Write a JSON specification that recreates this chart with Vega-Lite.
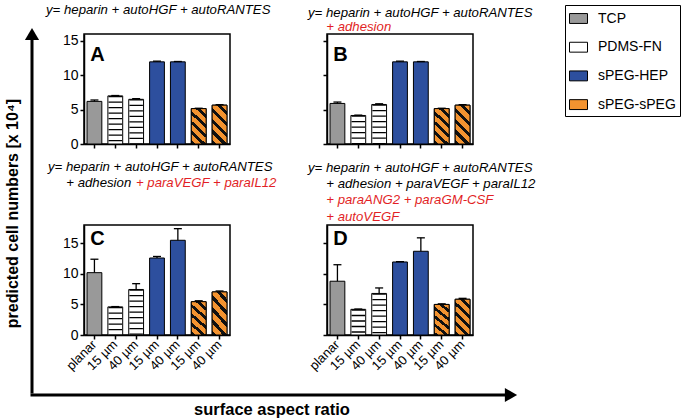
{
  "$schema": "https://vega.github.io/schema/vega-lite/v6.json",
  "padding": {"left": 4, "top": 1, "right": 2, "bottom": 2},
  "background": "white",
  "config": {
    "font": "Liberation Sans",
    "view": {"stroke": "black", "strokeWidth": 1.5},
    "axis": {"domainColor": "black", "domainWidth": 1.5, "tickColor": "black", "tickWidth": 1.5, "tickSize": 4, "labelColor": "black", "labelFontSize": 14, "labelFont": "Liberation Sans", "grid": false, "titleColor": "black", "titleFont": "Liberation Sans", "labelOverlap": false},
    "title": {"font": "Liberation Sans", "fontSize": 13.2, "fontStyle": "italic", "fontWeight": "normal", "color": "black", "anchor": "start", "frame": "group", "lineHeight": 16.4, "subtitleFont": "Liberation Sans", "subtitleFontSize": 13.2, "subtitleFontStyle": "italic", "subtitleColor": "#e21f26", "subtitleLineHeight": 16.4, "subtitlePadding": 0},
    "legend": {"titleColor": "black"}
  },
  "datasets": {
    "bars": [
      {"panel": "A", "cond": "TCP|planar", "material": "TCP", "value": 6.2, "upper": 6.4},
      {"panel": "A", "cond": "PDMS|15 µm", "material": "PDMS-FN", "value": 7.0, "upper": 7.05},
      {"panel": "A", "cond": "PDMS|40 µm", "material": "PDMS-FN", "value": 6.5, "upper": 6.6},
      {"panel": "A", "cond": "HEP|15 µm", "material": "sPEG-HEP", "value": 11.95, "upper": 12.05},
      {"panel": "A", "cond": "HEP|40 µm", "material": "sPEG-HEP", "value": 11.95, "upper": 12.0},
      {"panel": "A", "cond": "sPEG|15 µm", "material": "sPEG-sPEG", "value": 5.15, "upper": 5.2},
      {"panel": "A", "cond": "sPEG|40 µm", "material": "sPEG-sPEG", "value": 5.65, "upper": 5.72},
      {"panel": "B", "cond": "TCP|planar", "material": "TCP", "value": 5.9, "upper": 6.1},
      {"panel": "B", "cond": "PDMS|15 µm", "material": "PDMS-FN", "value": 4.15, "upper": 4.2},
      {"panel": "B", "cond": "PDMS|40 µm", "material": "PDMS-FN", "value": 5.75, "upper": 5.85},
      {"panel": "B", "cond": "HEP|15 µm", "material": "sPEG-HEP", "value": 11.95, "upper": 12.05},
      {"panel": "B", "cond": "HEP|40 µm", "material": "sPEG-HEP", "value": 11.95, "upper": 12.0},
      {"panel": "B", "cond": "sPEG|15 µm", "material": "sPEG-sPEG", "value": 5.15, "upper": 5.2},
      {"panel": "B", "cond": "sPEG|40 µm", "material": "sPEG-sPEG", "value": 5.65, "upper": 5.72},
      {"panel": "C", "cond": "TCP|planar", "material": "TCP", "value": 10.2, "upper": 12.4},
      {"panel": "C", "cond": "PDMS|15 µm", "material": "PDMS-FN", "value": 4.6, "upper": 4.65},
      {"panel": "C", "cond": "PDMS|40 µm", "material": "PDMS-FN", "value": 7.45, "upper": 8.4},
      {"panel": "C", "cond": "HEP|15 µm", "material": "sPEG-HEP", "value": 12.6, "upper": 12.85},
      {"panel": "C", "cond": "HEP|40 µm", "material": "sPEG-HEP", "value": 15.5, "upper": 17.4},
      {"panel": "C", "cond": "sPEG|15 µm", "material": "sPEG-sPEG", "value": 5.45, "upper": 5.6},
      {"panel": "C", "cond": "sPEG|40 µm", "material": "sPEG-sPEG", "value": 7.05, "upper": 7.2},
      {"panel": "D", "cond": "TCP|planar", "material": "TCP", "value": 8.8, "upper": 11.5},
      {"panel": "D", "cond": "PDMS|15 µm", "material": "PDMS-FN", "value": 4.2, "upper": 4.25},
      {"panel": "D", "cond": "PDMS|40 µm", "material": "PDMS-FN", "value": 6.8, "upper": 7.7},
      {"panel": "D", "cond": "HEP|15 µm", "material": "sPEG-HEP", "value": 11.95, "upper": 12.0},
      {"panel": "D", "cond": "HEP|40 µm", "material": "sPEG-HEP", "value": 13.7, "upper": 15.9},
      {"panel": "D", "cond": "sPEG|15 µm", "material": "sPEG-sPEG", "value": 5.0, "upper": 5.1},
      {"panel": "D", "cond": "sPEG|40 µm", "material": "sPEG-sPEG", "value": 5.85, "upper": 6.0}
    ],
    "letters": [
      {"panel": "A", "L": "A"}, {"panel": "B", "L": "B"}, {"panel": "C", "L": "C"}, {"panel": "D", "L": "D"}
    ]
  },
  "spacing": -10,
  "vconcat": [
    {
      "spacing": 5,
      "hconcat": [
        {
          "width": 1, "height": 358,
          "view": {"stroke": null},
          "data": {"values": [{"k": 0}]},
          "layer": [
            {"mark": {"type": "rule", "color": "black", "strokeWidth": 3, "strokeCap": "square"},
             "encoding": {
               "x": {"datum": 0, "type": "quantitative", "scale": {"domain": [0, 1]}, "axis": null},
               "y": {"datum": 0, "type": "quantitative", "scale": {"domain": [0, 1]}, "axis": {"title": "predicted cell numbers [x 10⁴]", "domain": false, "ticks": false, "labels": false, "grid": false, "titleFontSize": 16, "titleFontWeight": "bold", "titlePadding": 12}},
               "y2": {"datum": 1}
             }},
            {"mark": {"type": "point", "shape": "triangle-up", "filled": true, "size": 200, "color": "black", "opacity": 1},
             "encoding": {"x": {"datum": 0, "type": "quantitative"}, "y": {"datum": 1, "type": "quantitative"}}}
          ]
        },
        {
          "columns": 2,
          "align": "each",
          "spacing": {"row": 6, "column": 28},
          "concat": [
            {
              "width": 146, "height": 110,
              "title": {"text": "y= heparin + autoHGF + autoRANTES", "dx": -38, "offset": 17},
              "data": {"name": "bars"},
              "transform": [{"filter": "datum.panel === 'A'"}],
              "encoding": {"x": {"field": "cond", "type": "nominal", "scale": {"domain": ["TCP|planar", "PDMS|15 µm", "PDMS|40 µm", "HEP|15 µm", "HEP|40 µm", "sPEG|15 µm", "sPEG|40 µm"], "paddingInner": 0.29, "paddingOuter": 0.145}, "axis": {"title": null, "labels": false}}},
              "layer": [
                {"mark": {"type": "bar", "stroke": "black", "strokeWidth": 1},
                 "encoding": {
                   "y": {"field": "value", "type": "quantitative", "scale": {"domain": [0, 15]}, "axis": {"title": null, "values": [0, 5, 10, 15], "labelPadding": 2}},
                   "fill": {"field": "material", "type": "nominal", "scale": {"domain": ["TCP", "PDMS-FN", "sPEG-HEP", "sPEG-sPEG"], "range": ["#999999", "#ffffff", "#2d4f9e", "#f39330"]},
                     "legend": {"title": null, "orient": "none", "legendX": 533, "legendY": -29, "strokeColor": "black", "padding": 4, "labelFontSize": 14, "labelColor": "black", "labelOffset": 10, "rowPadding": 11.7, "symbolType": "M-1,-0.55L1,-0.55L1,0.55L-1,0.55Z", "symbolSize": 324, "symbolStrokeColor": "black", "symbolStrokeWidth": 1, "symbolOpacity": 1}}
                 }},
                {"transform": [{"filter": "datum.material === 'sPEG-sPEG'"}],
                 "mark": {"type": "bar", "stroke": "black", "strokeWidth": 1, "fill": {"gradient": "linear", "x1": 1, "y1": 0, "x2": 0.5355, "y2": 1.2065, "stops": [{"offset": 0, "color": "#f39330"}, {"offset": 0.12, "color": "#f39330"}, {"offset": 0.12, "color": "#111111"}, {"offset": 0.2, "color": "#111111"}, {"offset": 0.2, "color": "#f39330"}, {"offset": 0.32, "color": "#f39330"}, {"offset": 0.32, "color": "#111111"}, {"offset": 0.4, "color": "#111111"}, {"offset": 0.4, "color": "#f39330"}, {"offset": 0.52, "color": "#f39330"}, {"offset": 0.52, "color": "#111111"}, {"offset": 0.6, "color": "#111111"}, {"offset": 0.6, "color": "#f39330"}, {"offset": 0.72, "color": "#f39330"}, {"offset": 0.72, "color": "#111111"}, {"offset": 0.8, "color": "#111111"}, {"offset": 0.8, "color": "#f39330"}, {"offset": 0.92, "color": "#f39330"}, {"offset": 0.92, "color": "#111111"}, {"offset": 1, "color": "#111111"}]}},
                 "encoding": {"y": {"field": "value", "type": "quantitative", "axis": {"title": null, "values": [0, 5, 10, 15], "labelPadding": 2}}}},
                {"transform": [{"filter": "datum.material === 'PDMS-FN'"}],
                 "mark": {"type": "rule", "strokeWidth": 13.5, "strokeDash": [1.3, 4.2], "color": "black"},
                 "encoding": {"y": {"field": "value", "type": "quantitative", "axis": {"title": null, "values": [0, 5, 10, 15], "labelPadding": 2}}, "y2": {"datum": 0}}},
                {"mark": {"type": "rule", "strokeWidth": 1.3, "color": "black"},
                 "encoding": {"y": {"field": "value", "type": "quantitative", "axis": {"title": null, "values": [0, 5, 10, 15], "labelPadding": 2}}, "y2": {"field": "upper"}}},
                {"mark": {"type": "tick", "size": 8, "thickness": 1.3, "color": "black", "opacity": 1},
                 "encoding": {"y": {"field": "upper", "type": "quantitative", "axis": {"title": null, "values": [0, 5, 10, 15], "labelPadding": 2}}}},
                {"data": {"name": "letters"}, "transform": [{"filter": "datum.panel === 'A'"}],
                 "mark": {"type": "text", "fontSize": 20, "fontWeight": "bold", "align": "center", "baseline": "top", "dx": 3, "dy": 4, "color": "black"},
                 "encoding": {"x": {"datum": "TCP|planar", "type": "nominal"}, "y": {"datum": 15, "type": "quantitative", "axis": {"title": null, "values": [0, 5, 10, 15], "labelPadding": 2}}, "text": {"field": "L"}}}
              ]
            },
            {
              "width": 146, "height": 110,
              "title": {"text": "y= heparin + autoHGF + autoRANTES", "subtitle": "\u200b\u00a0\u00a0\u00a0\u00a0\u00a0+ adhesion", "subtitlePadding": 1, "dx": -19, "offset": 0},
              "data": {"name": "bars"},
              "transform": [{"filter": "datum.panel === 'B'"}],
              "encoding": {"x": {"field": "cond", "type": "nominal", "scale": {"domain": ["TCP|planar", "PDMS|15 µm", "PDMS|40 µm", "HEP|15 µm", "HEP|40 µm", "sPEG|15 µm", "sPEG|40 µm"], "paddingInner": 0.29, "paddingOuter": 0.145}, "axis": {"title": null, "labels": false}}},
              "layer": [
                {"mark": {"type": "bar", "stroke": "black", "strokeWidth": 1},
                 "encoding": {
                   "y": {"field": "value", "type": "quantitative", "scale": {"domain": [0, 15]}, "axis": {"title": null, "values": [0, 5, 10, 15], "labels": false}},
                   "fill": {"field": "material", "type": "nominal"}
                 }},
                {"transform": [{"filter": "datum.material === 'sPEG-sPEG'"}],
                 "mark": {"type": "bar", "stroke": "black", "strokeWidth": 1, "fill": {"gradient": "linear", "x1": 1, "y1": 0, "x2": 0.5355, "y2": 1.2065, "stops": [{"offset": 0, "color": "#f39330"}, {"offset": 0.12, "color": "#f39330"}, {"offset": 0.12, "color": "#111111"}, {"offset": 0.2, "color": "#111111"}, {"offset": 0.2, "color": "#f39330"}, {"offset": 0.32, "color": "#f39330"}, {"offset": 0.32, "color": "#111111"}, {"offset": 0.4, "color": "#111111"}, {"offset": 0.4, "color": "#f39330"}, {"offset": 0.52, "color": "#f39330"}, {"offset": 0.52, "color": "#111111"}, {"offset": 0.6, "color": "#111111"}, {"offset": 0.6, "color": "#f39330"}, {"offset": 0.72, "color": "#f39330"}, {"offset": 0.72, "color": "#111111"}, {"offset": 0.8, "color": "#111111"}, {"offset": 0.8, "color": "#f39330"}, {"offset": 0.92, "color": "#f39330"}, {"offset": 0.92, "color": "#111111"}, {"offset": 1, "color": "#111111"}]}},
                 "encoding": {"y": {"field": "value", "type": "quantitative", "axis": {"title": null, "values": [0, 5, 10, 15], "labels": false}}}},
                {"transform": [{"filter": "datum.material === 'PDMS-FN'"}],
                 "mark": {"type": "rule", "strokeWidth": 13.5, "strokeDash": [1.3, 4.2], "color": "black"},
                 "encoding": {"y": {"field": "value", "type": "quantitative", "axis": {"title": null, "values": [0, 5, 10, 15], "labels": false}}, "y2": {"datum": 0}}},
                {"mark": {"type": "rule", "strokeWidth": 1.3, "color": "black"},
                 "encoding": {"y": {"field": "value", "type": "quantitative", "axis": {"title": null, "values": [0, 5, 10, 15], "labels": false}}, "y2": {"field": "upper"}}},
                {"mark": {"type": "tick", "size": 8, "thickness": 1.3, "color": "black", "opacity": 1},
                 "encoding": {"y": {"field": "upper", "type": "quantitative", "axis": {"title": null, "values": [0, 5, 10, 15], "labels": false}}}},
                {"data": {"name": "letters"}, "transform": [{"filter": "datum.panel === 'B'"}],
                 "mark": {"type": "text", "fontSize": 20, "fontWeight": "bold", "align": "center", "baseline": "top", "dx": 3, "dy": 4, "color": "black"},
                 "encoding": {"x": {"datum": "TCP|planar", "type": "nominal"}, "y": {"datum": 15, "type": "quantitative", "axis": {"title": null, "values": [0, 5, 10, 15], "labels": false}}, "text": {"field": "L"}}}
              ]
            },
            {
              "width": 146, "height": 110,
              "title": {"text": ["y= heparin + autoHGF + autoRANTES", "\u200b\u00a0\u00a0\u00a0\u00a0\u00a0+ adhesion"], "subtitle": "\u200b\u00a0\u00a0\u00a0\u00a0\u00a0\u00a0\u00a0\u00a0\u00a0\u00a0\u00a0\u00a0\u00a0\u00a0\u00a0\u00a0\u00a0\u00a0\u00a0\u00a0\u00a0\u00a0\u00a0\u00a0+ paraVEGF + paraIL12", "subtitlePadding": -13, "dx": -36, "offset": 34.5},
              "data": {"name": "bars"},
              "transform": [{"filter": "datum.panel === 'C'"}],
              "encoding": {"x": {"field": "cond", "type": "nominal", "scale": {"domain": ["TCP|planar", "PDMS|15 µm", "PDMS|40 µm", "HEP|15 µm", "HEP|40 µm", "sPEG|15 µm", "sPEG|40 µm"], "paddingInner": 0.29, "paddingOuter": 0.145}, "axis": {"title": null, "labelAngle": -45, "labelAlign": "right", "labelBaseline": "middle", "labelFontSize": 13, "labelPadding": 3, "labelExpr": "split(datum.label, '|')[1]"}}},
              "layer": [
                {"mark": {"type": "bar", "stroke": "black", "strokeWidth": 1},
                 "encoding": {
                   "y": {"field": "value", "type": "quantitative", "scale": {"domain": [0, 18]}, "axis": {"title": null, "values": [0, 5, 10, 15], "labelPadding": 2}},
                   "fill": {"field": "material", "type": "nominal"}
                 }},
                {"transform": [{"filter": "datum.material === 'sPEG-sPEG'"}],
                 "mark": {"type": "bar", "stroke": "black", "strokeWidth": 1, "fill": {"gradient": "linear", "x1": 1, "y1": 0, "x2": 0.5355, "y2": 1.2065, "stops": [{"offset": 0, "color": "#f39330"}, {"offset": 0.12, "color": "#f39330"}, {"offset": 0.12, "color": "#111111"}, {"offset": 0.2, "color": "#111111"}, {"offset": 0.2, "color": "#f39330"}, {"offset": 0.32, "color": "#f39330"}, {"offset": 0.32, "color": "#111111"}, {"offset": 0.4, "color": "#111111"}, {"offset": 0.4, "color": "#f39330"}, {"offset": 0.52, "color": "#f39330"}, {"offset": 0.52, "color": "#111111"}, {"offset": 0.6, "color": "#111111"}, {"offset": 0.6, "color": "#f39330"}, {"offset": 0.72, "color": "#f39330"}, {"offset": 0.72, "color": "#111111"}, {"offset": 0.8, "color": "#111111"}, {"offset": 0.8, "color": "#f39330"}, {"offset": 0.92, "color": "#f39330"}, {"offset": 0.92, "color": "#111111"}, {"offset": 1, "color": "#111111"}]}},
                 "encoding": {"y": {"field": "value", "type": "quantitative", "axis": {"title": null, "values": [0, 5, 10, 15], "labelPadding": 2}}}},
                {"transform": [{"filter": "datum.material === 'PDMS-FN'"}],
                 "mark": {"type": "rule", "strokeWidth": 13.5, "strokeDash": [1.3, 4.2], "color": "black"},
                 "encoding": {"y": {"field": "value", "type": "quantitative", "axis": {"title": null, "values": [0, 5, 10, 15], "labelPadding": 2}}, "y2": {"datum": 0}}},
                {"mark": {"type": "rule", "strokeWidth": 1.3, "color": "black"},
                 "encoding": {"y": {"field": "value", "type": "quantitative", "axis": {"title": null, "values": [0, 5, 10, 15], "labelPadding": 2}}, "y2": {"field": "upper"}}},
                {"mark": {"type": "tick", "size": 8, "thickness": 1.3, "color": "black", "opacity": 1},
                 "encoding": {"y": {"field": "upper", "type": "quantitative", "axis": {"title": null, "values": [0, 5, 10, 15], "labelPadding": 2}}}},
                {"data": {"name": "letters"}, "transform": [{"filter": "datum.panel === 'C'"}],
                 "mark": {"type": "text", "fontSize": 20, "fontWeight": "bold", "align": "center", "baseline": "top", "dx": 3, "dy": 4, "color": "black"},
                 "encoding": {"x": {"datum": "TCP|planar", "type": "nominal"}, "y": {"datum": 18, "type": "quantitative", "axis": {"title": null, "values": [0, 5, 10, 15], "labelPadding": 2}}, "text": {"field": "L"}}}
              ]
            },
            {
              "width": 146, "height": 110,
              "title": {"text": ["y= heparin + autoHGF + autoRANTES", "\u200b\u00a0\u00a0\u00a0\u00a0\u00a0+ adhesion + paraVEGF + paraIL12"], "subtitle": ["\u200b\u00a0\u00a0\u00a0\u00a0\u00a0+ paraANG2 + paraGM-CSF", "\u200b\u00a0\u00a0\u00a0\u00a0\u00a0+ autoVEGF"], "dx": -19, "offset": 1},
              "data": {"name": "bars"},
              "transform": [{"filter": "datum.panel === 'D'"}],
              "encoding": {"x": {"field": "cond", "type": "nominal", "scale": {"domain": ["TCP|planar", "PDMS|15 µm", "PDMS|40 µm", "HEP|15 µm", "HEP|40 µm", "sPEG|15 µm", "sPEG|40 µm"], "paddingInner": 0.29, "paddingOuter": 0.145}, "axis": {"title": null, "labelAngle": -45, "labelAlign": "right", "labelBaseline": "middle", "labelFontSize": 13, "labelPadding": 3, "labelExpr": "split(datum.label, '|')[1]"}}},
              "layer": [
                {"mark": {"type": "bar", "stroke": "black", "strokeWidth": 1},
                 "encoding": {
                   "y": {"field": "value", "type": "quantitative", "scale": {"domain": [0, 18]}, "axis": {"title": null, "values": [0, 5, 10, 15], "labels": false}},
                   "fill": {"field": "material", "type": "nominal"}
                 }},
                {"transform": [{"filter": "datum.material === 'sPEG-sPEG'"}],
                 "mark": {"type": "bar", "stroke": "black", "strokeWidth": 1, "fill": {"gradient": "linear", "x1": 1, "y1": 0, "x2": 0.5355, "y2": 1.2065, "stops": [{"offset": 0, "color": "#f39330"}, {"offset": 0.12, "color": "#f39330"}, {"offset": 0.12, "color": "#111111"}, {"offset": 0.2, "color": "#111111"}, {"offset": 0.2, "color": "#f39330"}, {"offset": 0.32, "color": "#f39330"}, {"offset": 0.32, "color": "#111111"}, {"offset": 0.4, "color": "#111111"}, {"offset": 0.4, "color": "#f39330"}, {"offset": 0.52, "color": "#f39330"}, {"offset": 0.52, "color": "#111111"}, {"offset": 0.6, "color": "#111111"}, {"offset": 0.6, "color": "#f39330"}, {"offset": 0.72, "color": "#f39330"}, {"offset": 0.72, "color": "#111111"}, {"offset": 0.8, "color": "#111111"}, {"offset": 0.8, "color": "#f39330"}, {"offset": 0.92, "color": "#f39330"}, {"offset": 0.92, "color": "#111111"}, {"offset": 1, "color": "#111111"}]}},
                 "encoding": {"y": {"field": "value", "type": "quantitative", "axis": {"title": null, "values": [0, 5, 10, 15], "labels": false}}}},
                {"transform": [{"filter": "datum.material === 'PDMS-FN'"}],
                 "mark": {"type": "rule", "strokeWidth": 13.5, "strokeDash": [1.3, 4.2], "color": "black"},
                 "encoding": {"y": {"field": "value", "type": "quantitative", "axis": {"title": null, "values": [0, 5, 10, 15], "labels": false}}, "y2": {"datum": 0}}},
                {"mark": {"type": "rule", "strokeWidth": 1.3, "color": "black"},
                 "encoding": {"y": {"field": "value", "type": "quantitative", "axis": {"title": null, "values": [0, 5, 10, 15], "labels": false}}, "y2": {"field": "upper"}}},
                {"mark": {"type": "tick", "size": 8, "thickness": 1.3, "color": "black", "opacity": 1},
                 "encoding": {"y": {"field": "upper", "type": "quantitative", "axis": {"title": null, "values": [0, 5, 10, 15], "labels": false}}}},
                {"data": {"name": "letters"}, "transform": [{"filter": "datum.panel === 'D'"}],
                 "mark": {"type": "text", "fontSize": 20, "fontWeight": "bold", "align": "center", "baseline": "top", "dx": 3, "dy": 4, "color": "black"},
                 "encoding": {"x": {"datum": "TCP|planar", "type": "nominal"}, "y": {"datum": 18, "type": "quantitative", "axis": {"title": null, "values": [0, 5, 10, 15], "labels": false}}, "text": {"field": "L"}}}
              ]
            }
          ]
        }
      ]
    },
    {
      "width": 479, "height": 1,
      "view": {"stroke": null},
      "data": {"values": [{"k": 0}]},
      "layer": [
        {"mark": {"type": "rule", "color": "black", "strokeWidth": 3, "strokeCap": "square"},
         "encoding": {
           "x": {"datum": 0, "type": "quantitative", "scale": {"domain": [0, 1]}, "axis": {"title": "surface aspect ratio", "domain": false, "ticks": false, "labels": false, "grid": false, "titleFontSize": 16.5, "titleFontWeight": "bold", "titlePadding": 5}},
           "x2": {"datum": 1},
           "y": {"datum": 1, "type": "quantitative", "scale": {"domain": [0, 1]}, "axis": null}
         }},
        {"mark": {"type": "point", "shape": "triangle-right", "filled": true, "size": 200, "color": "black", "opacity": 1},
         "encoding": {"x": {"datum": 1, "type": "quantitative"}, "y": {"datum": 1, "type": "quantitative"}}}
      ]
    }
  ]
}
